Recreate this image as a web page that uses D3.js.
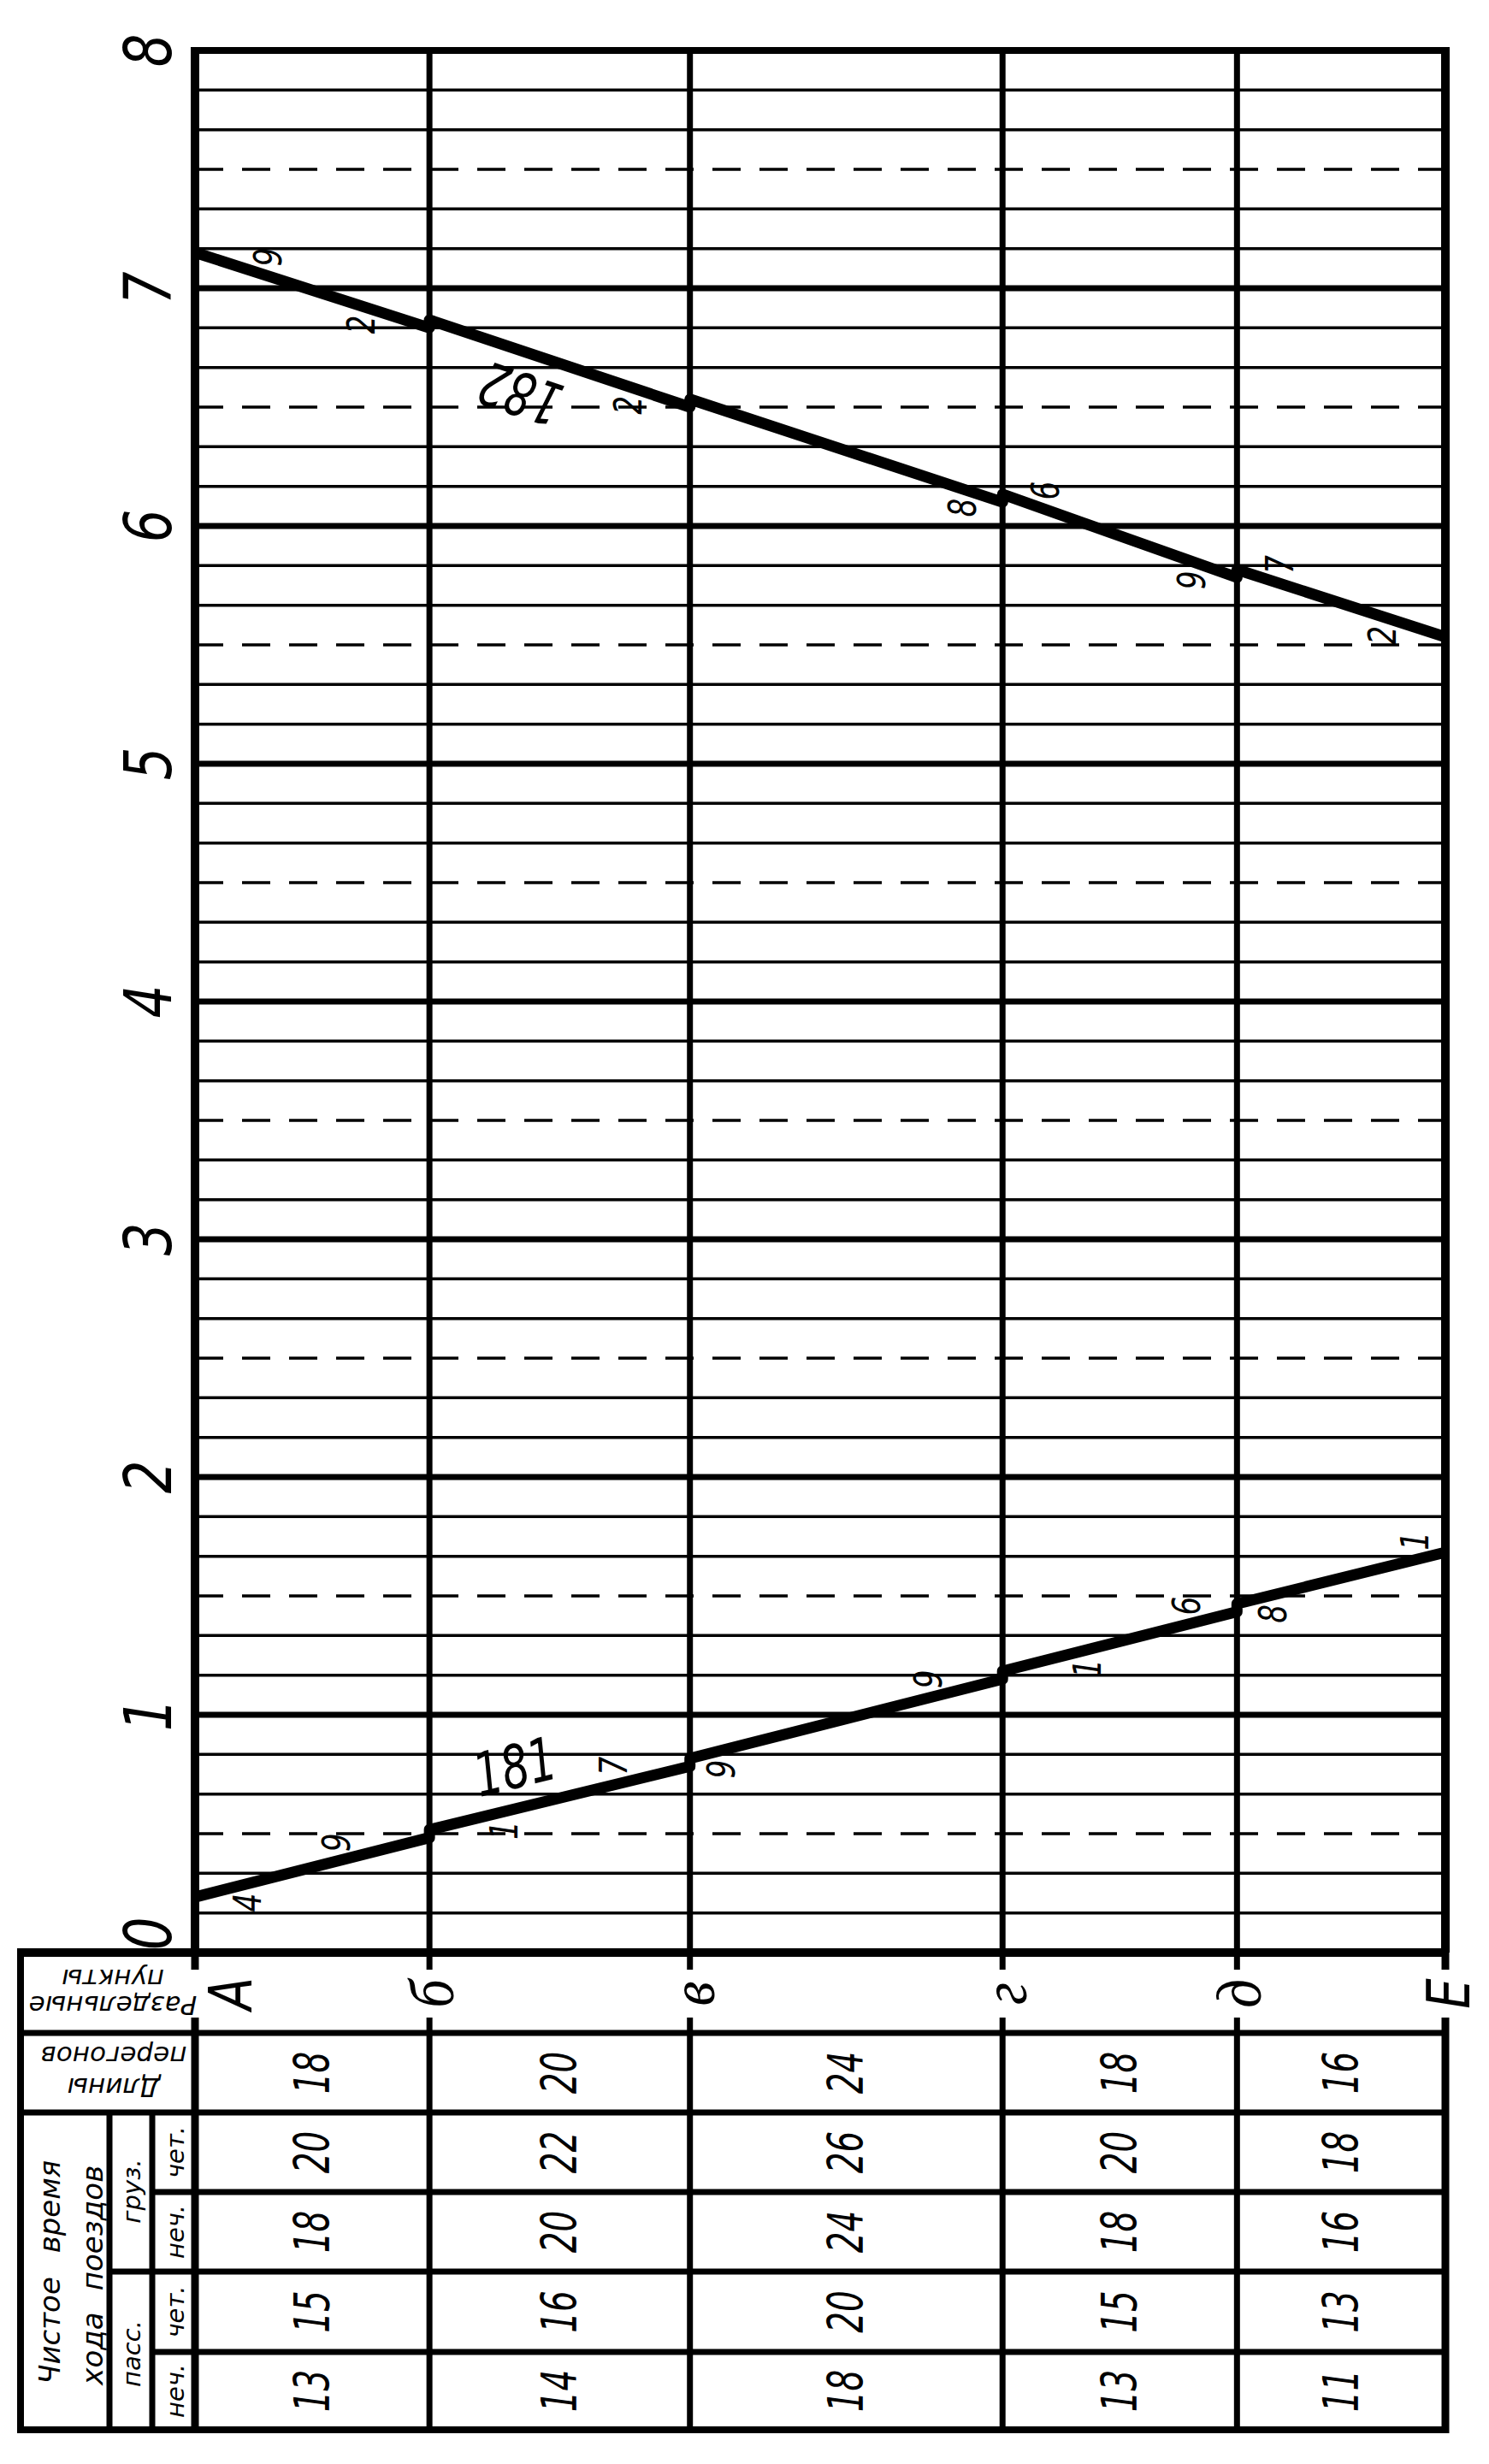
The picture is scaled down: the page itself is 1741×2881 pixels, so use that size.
<!DOCTYPE html>
<html><head><meta charset="utf-8">
<script src="https://cdn.jsdelivr.net/npm/d3@7"></script>
<style>body{margin:0;background:#fff}svg{display:block}</style>
</head><body>
<script>
// ---------- DATA ----------
const stations = ["А","б","в","г","д","Е"];
const stationKm = [0,18,38,62,80,96];
const segmentLength = [18,20,24,18,16];
const freightEven = [20,22,26,20,18];
const freightOdd  = [18,20,24,18,16];
const passEven    = [15,16,20,15,13];
const passOdd     = [13,14,18,13,11];
const hourTicks = [0,1,2,3,4,5,6,7,8];
// train 181 (odd, А -> Е); times in minutes after 0:00
const train181Stations = [0,1,2,3,4,5];
const train181Arr = [null,29,47,69,86,101];
const train181Dep = [14,31,49,71,88,null];
// train 182 (even, Е -> А)
const train182Stations = [5,4,3,2,1,0];
const train182Arr = [null,347,366,390,410,429];
const train182Dep = [332,349,368,392,412,null];
const train182ArrShown = [false,true,true,false,false,true];

// ---------- LAYOUT ----------
const W = 1741, H = 2881;
const FONT = "'DejaVu Sans', 'Liberation Sans', sans-serif";
const LETTER_FONT = "'Liberation Serif', 'DejaVu Serif', serif";
const gridTop = 59, gridBottom = 2283, gridLeft = 228, gridRight = 1690;
const tableLeft = 24, div1 = 128, div2 = 178;
const rowLines = [2283, 2377, 2470, 2563, 2656, 2750, 2841];
// label offsets along x from the station (px)
const lay181Arr = [null,-109,-89,-87,-59,-36];
const lay181Dep = [61,87,37,99,42,null];
const lay182Arr = [null,50,50,0,0,85];
const lay182Dep = [-74,-53,-47,-72,-80,null];

const svg = d3.select("body").append("svg").attr("width", W).attr("height", H)
  .style("background", "#fff");

const X = d3.scaleLinear().domain([0, 96]).range([gridLeft, gridRight]);
const Y = d3.scaleLinear().domain([0, 480]).range([gridBottom, gridTop]);

function rtext(parent, x, y, txt, o) {
  return parent.append("text")
    .attr("transform", `translate(${x},${y}) rotate(${o.rot === undefined ? -90 : o.rot}) scale(${o.sx || 1},1)`)
    .attr("font-size", o.size)
    .attr("font-family", o.family || FONT)
    .attr("font-style", "italic")
    .attr("text-anchor", o.anchor || "middle")
    .attr("dominant-baseline", o.baseline || "central")
    .attr("fill", "#000")
    .text(txt);
}

// ---------- GRID ----------
const gGrid = svg.append("g").attr("stroke", "#000");
const minuteLines = d3.range(10, 480, 10);
gGrid.selectAll("line.m").data(minuteLines).join("line")
  .attr("x1", gridLeft).attr("x2", gridRight)
  .attr("y1", d => Y(d)).attr("y2", d => Y(d))
  .attr("stroke-width", d => d % 60 === 0 ? 7 : 3.5)
  .attr("stroke-dasharray", d => (d % 30 === 0 && d % 60 !== 0) ? "33,22" : null);
gGrid.append("line").attr("x1", gridLeft - 5).attr("x2", gridRight + 5)
  .attr("y1", Y(480)).attr("y2", Y(480)).attr("stroke-width", 8);
gGrid.selectAll("line.s").data(stationKm).join("line")
  .attr("x1", d => X(d)).attr("x2", d => X(d))
  .attr("y1", gridTop - 4).attr("y2", gridBottom)
  .attr("stroke-width", (d, i) => (i === 0 || i === stationKm.length - 1) ? 10 : 7);

// ---------- TABLE ----------
const gT = svg.append("g").attr("stroke", "#000");
function hl(y, x1, w) { gT.append("line").attr("x1", x1).attr("x2", gridRight).attr("y1", y).attr("y2", y).attr("stroke-width", w); }
function vl(x, y1, y2, w) { gT.append("line").attr("x1", x).attr("x2", x).attr("y1", y1).attr("y2", y2).attr("stroke-width", w); }
hl(rowLines[0], tableLeft - 4, 10);
hl(rowLines[1], tableLeft, 7);
hl(rowLines[2], tableLeft, 7);
hl(rowLines[3], div2, 7);
hl(rowLines[4], div1, 7);
hl(rowLines[5], div2, 7);
hl(rowLines[6], tableLeft - 4, 8);
vl(tableLeft, rowLines[0], rowLines[6] + 4, 8);
vl(div1, rowLines[2], rowLines[6], 7);
vl(div2, rowLines[2], rowLines[6], 7);
stationKm.forEach((km, i) => {
  const w = (i === 0 || i === stationKm.length - 1) ? 9 : 7;
  vl(X(km), rowLines[0], 2303, w);
  vl(X(km), 2359, rowLines[6] + 4, w);
});

// header texts
rtext(svg, 132, 2314, "пункты", {size: 31, rot: 180});
rtext(svg, 132, 2345, "Раздельные", {size: 31, rot: 180});
rtext(svg, 133, 2404, "перегонов", {size: 31, rot: 180});
rtext(svg, 133, 2441, "Длины", {size: 31, rot: 180});
rtext(svg, 58, 2725, "Чистое", {size: 34});
rtext(svg, 58, 2580, "время", {size: 34});
rtext(svg, 108, 2746, "хода", {size: 34});
rtext(svg, 108, 2605, "поездов", {size: 34});
rtext(svg, 154, 2562, "груз.", {size: 29});
rtext(svg, 154, 2752, "пасс.", {size: 29});
["чет.", "неч.", "чет.", "неч."].forEach((t, k) => {
  rtext(svg, 205, (rowLines[k + 2] + rowLines[k + 3]) / 2, t, {size: 29});
});

// station names
stations.forEach((s, i) => {
  const upper = s === s.toUpperCase();
  rtext(svg, X(stationKm[i]) + (i === 0 ? 66 : 28), 2331, s,
    {size: upper ? 70 : 74, sx: upper ? 0.8 : 0.9, baseline: "alphabetic",
     family: upper ? FONT : LETTER_FONT});
});

// table values
const tableRows = [segmentLength, freightEven, freightOdd, passEven, passOdd];
tableRows.forEach((vals, r) => {
  const cy = (rowLines[r + 1] + rowLines[r + 2]) / 2;
  vals.forEach((v, i) => {
    const cx = X((stationKm[i] + stationKm[i + 1]) / 2);
    rtext(svg, cx, cy, v, {size: 57, sx: 0.68});
  });
});

// hour labels
hourTicks.forEach(h => {
  rtext(svg, 173, Y(h * 60) - (h === 0 ? 22 : 0), h, {size: 76, sx: 0.8});
});

// ---------- TRAINS ----------
function trainPoints(st, arr, dep) {
  const pts = [];
  st.forEach((s, i) => {
    if (arr[i] != null) pts.push([X(stationKm[s]), Y(arr[i])]);
    if (dep[i] != null) pts.push([X(stationKm[s]), Y(dep[i])]);
  });
  return pts.sort((a, b) => a[0] - b[0] || 0);
}
function yOn(pts, px) {
  for (let k = 0; k < pts.length - 1; k++) {
    const [x0, y0] = pts[k], [x1, y1] = pts[k + 1];
    if (x1 === x0) continue;
    if (px >= x0 && px <= x1) return y0 + (y1 - y0) * (px - x0) / (x1 - x0);
  }
  return pts[px < pts[0][0] ? 0 : pts.length - 1][1];
}
function slopeAt(pts, px) {
  for (let k = 0; k < pts.length - 1; k++) {
    const [x0, y0] = pts[k], [x1, y1] = pts[k + 1];
    if (x1 === x0) continue;
    if (px >= x0 && px <= x1) return (y1 - y0) / (x1 - x0);
  }
  return 0;
}
const p181 = trainPoints(train181Stations, train181Arr, train181Dep);
const p182 = trainPoints(train182Stations, train182Arr, train182Dep);
const line = d3.line();
[p181, p182].forEach(p => {
  svg.append("path").attr("d", line(p)).attr("fill", "none").attr("stroke", "#000")
    .attr("stroke-width", 13).attr("stroke-linejoin", "round").attr("stroke-linecap", "butt");
});

// minute labels
function minuteLabel(pts, st, t, dx, above) {
  const x = X(stationKm[st]) + dx;
  const y = yOn(pts, x) + (above ? -22 : 22);
  rtext(svg, x, y, String(t % 10), {size: 44, sx: 0.78});
}
train181Stations.forEach((s, i) => {
  if (train181Arr[i] != null) minuteLabel(p181, s, train181Arr[i], lay181Arr[i], true);
  if (train181Dep[i] != null) minuteLabel(p181, s, train181Dep[i], lay181Dep[i], false);
});
train182Stations.forEach((s, i) => {
  if (train182Arr[i] != null && train182ArrShown[i]) minuteLabel(p182, s, train182Arr[i], lay182Arr[i], true);
  if (train182Dep[i] != null) minuteLabel(p182, s, train182Dep[i], lay182Dep[i], false);
});

// train numbers
function trainNumber(pts, txt, km, above) {
  const px = X(km), py = yOn(pts, px), m = slopeAt(pts, px);
  const len = Math.hypot(1, m);
  let nx = m / len, ny = -1 / len;
  if (!above) { nx = -nx; ny = -ny; }
  const ang = Math.atan(m) * 180 / Math.PI + (above ? 0 : 180);
  rtext(svg, px + 48 * nx, py + 48 * ny, txt, {size: 70, sx: 0.72, rot: ang});
}
trainNumber(p181, "181", 25.3, true);
trainNumber(p182, "182", 26.0, false);
</script>
</body></html>
